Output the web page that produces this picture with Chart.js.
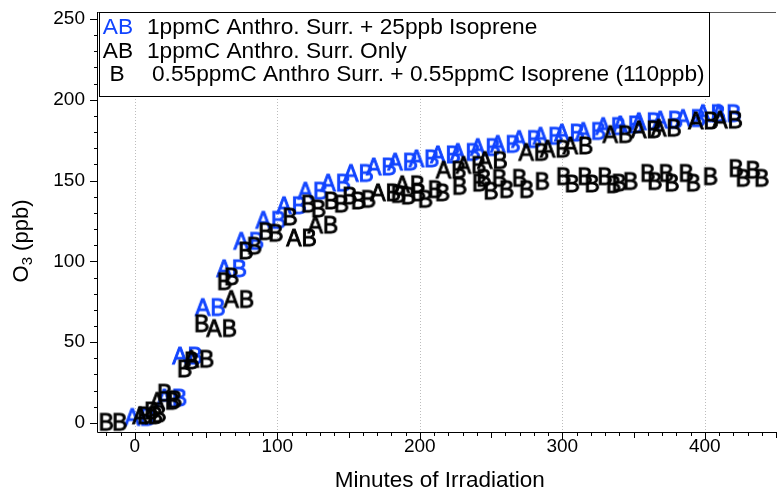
<!DOCTYPE html>
<html>
<head>
<meta charset="utf-8">
<script src="https://cdn.jsdelivr.net/npm/chart.js@4"></script>
<style>
  html, body { margin: 0; padding: 0; background: #fff; }
  #wrap { width: 781px; height: 492px; }
</style>
</head>
<body>
<div id="wrap"><canvas id="chart"></canvas></div>
<script>
// 1ppmC surrogate + 25ppb isoprene (blue AB)
const isoMin = [3.5, 26, 37, 53, 68, 80, 95.5, 110, 125, 141, 157, 173, 188, 203, 218, 232, 246, 260, 275, 290, 305, 320, 334, 346, 359, 374, 390, 404, 415];
const isoO3  = [4, 16, 42, 72, 96, 113, 126, 135, 144, 149, 155, 159, 162, 164, 166.5, 168, 171, 173, 176, 178, 180, 181, 184, 185, 187, 188, 189, 192, 192];

// 1ppmC surrogate only (black AB)
const surMin = [9, 21, 45, 61, 73, 117, 132, 176, 193, 222, 236, 251, 280, 295, 311, 339, 359, 373, 399, 416];
const surO3  = [5, 14, 40, 59, 77, 115, 123, 143, 148, 157, 160, 163, 168, 170, 172, 179, 182, 183, 187.5, 188];

// 0.55ppmC surrogate + 0.55ppmC isoprene (black B)
const mixMin = [-20, -10.5, 7, 12, 17, 21, 28, 35, 40, 47, 63, 68, 78, 84, 92, 99, 109, 122, 129, 138,
                145, 151, 157, 164, 185, 192, 199, 204, 211, 216, 228, 242, 245, 250, 256, 261, 270, 275, 286, 301,
                307, 316, 321, 330, 336, 340, 348, 360, 365, 373, 377, 387, 392, 404, 422, 427, 434, 440];
const mixO3  = [1, 1, 5, 8, 6, 19, 15, 34, 39, 62, 88, 91, 107, 110, 119, 118, 128, 136, 133, 138,
                136, 141, 138, 139, 142, 141, 143, 139, 145, 143, 147, 149, 152, 144, 152, 145, 152, 145, 150, 153,
                148.5, 153, 148.5, 153, 148, 149, 150, 155, 150, 155, 149, 155, 149, 153, 158, 152, 157, 152];

const seriesNames = ['1ppmC Anthro. Surr. + 25ppb Isoprene', '1ppmC Anthro. Surr. Only', '0.55ppmC Anthro Surr. + 0.55ppmC Isoprene (110ppb)'];
const seriesMarks = ['AB', 'AB', 'B'];

const xTicks = [0, 100, 200, 300, 400];
const yTicks = [0, 50, 100, 150, 200, 250];

const FONT = '"Liberation Sans", Arial, sans-serif';
const BLUE = '#1144ff';

function textMarker(str, color) {
  const c = document.createElement('canvas');
  const g = c.getContext('2d');
  g.font = '23px ' + FONT;
  const w = Math.ceil(g.measureText(str).width) + 4;
  c.width = w;
  c.height = 26;
  g.font = '23px ' + FONT;
  g.fillStyle = color;
  g.strokeStyle = color;
  g.lineWidth = 0.9;
  g.textAlign = 'center';
  g.textBaseline = 'alphabetic';
  g.fillText(str, w / 2, 13 + 8.5);
  g.strokeText(str, w / 2, 13 + 8.5);
  return c;
}

function pts(xs, ys) {
  return xs.map((v, i) => ({ x: v, y: ys[i] }));
}

const frame = {
  id: 'frame',
  beforeDatasetsDraw(chart) {
    const { ctx, chartArea: a, scales: { x } } = chart;
    ctx.save();
    ctx.strokeStyle = '#bdbdbd';
    ctx.lineWidth = 1;
    ctx.setLineDash([1, 2]);
    xTicks.forEach(v => {
      const px = Math.round(x.getPixelForValue(v)) + 0.5;
      ctx.beginPath();
      ctx.moveTo(px, a.top);
      ctx.lineTo(px, a.bottom);
      ctx.stroke();
    });
    ctx.restore();
  },
  afterDatasetsDraw(chart) {
    const { ctx, chartArea: a, scales: { x, y } } = chart;
    ctx.save();
    // top border
    ctx.strokeStyle = '#555';
    ctx.lineWidth = 1;
    ctx.beginPath();
    ctx.moveTo(a.left, a.top + 0.5);
    ctx.lineTo(a.right, a.top + 0.5);
    ctx.stroke();

    // axes
    ctx.strokeStyle = '#000';
    ctx.beginPath();
    ctx.moveTo(a.left - 0.5, a.top);
    ctx.lineTo(a.left - 0.5, a.bottom + 0.5);
    ctx.lineTo(a.right, a.bottom + 0.5);
    ctx.stroke();

    // x ticks
    ctx.beginPath();
    for (let v = -20; v <= 450; v += 10) {
      const px = Math.round(x.getPixelForValue(v)) + 0.5;
      const len = v % 100 === 0 ? 8 : (v % 50 === 0 ? 6 : 4);
      ctx.moveTo(px, a.bottom);
      ctx.lineTo(px, a.bottom + len);
    }
    // y ticks
    for (let v = 0; v <= 250; v += 10) {
      const py = Math.round(y.getPixelForValue(v)) + 0.5;
      const len = v % 50 === 0 ? 8 : 4;
      ctx.moveTo(a.left, py);
      ctx.lineTo(a.left - len, py);
    }
    ctx.stroke();

    // tick labels
    ctx.fillStyle = '#000';
    ctx.font = '19px ' + FONT;
    ctx.textAlign = 'center';
    ctx.textBaseline = 'middle';
    xTicks.forEach(v => ctx.fillText(String(v), x.getPixelForValue(v), 447));
    ctx.textAlign = 'right';
    yTicks.forEach(v => ctx.fillText(String(v), 85, y.getPixelForValue(v)));

    // axis titles
    ctx.font = '22.5px ' + FONT;
    ctx.textAlign = 'center';
    ctx.fillText('Minutes of Irradiation', (x.getPixelForValue(0) + x.getPixelForValue(400)) / 2 + 20, 481);

    ctx.translate(22, 241);
    ctx.rotate(-Math.PI / 2);
    ctx.textAlign = 'left';
    ctx.font = '22px ' + FONT;
    const wO = ctx.measureText('O').width;
    ctx.font = '15px ' + FONT;
    const w3 = ctx.measureText('3').width;
    ctx.font = '22px ' + FONT;
    const wRest = ctx.measureText(' (ppb)').width;
    let sx = -(wO + w3 + wRest) / 2;
    ctx.fillText('O', sx, 0);
    ctx.font = '15px ' + FONT;
    ctx.fillText('3', sx + wO, 6);
    ctx.font = '22px ' + FONT;
    ctx.fillText(' (ppb)', sx + wO + w3, 0);
    ctx.restore();

    // legend
    ctx.save();
    ctx.fillStyle = '#fff';
    ctx.fillRect(100, 13, 609, 83);
    ctx.strokeStyle = '#000';
    ctx.lineWidth = 1;
    ctx.strokeRect(99.5, 12.5, 610, 84);
    ctx.font = '22.7px ' + FONT;
    ctx.textBaseline = 'middle';
    const rows = [27, 50.5, 74];
    const colors = [BLUE, '#000', '#000'];
    seriesNames.forEach((name, i) => {
      ctx.fillStyle = colors[i];
      ctx.textAlign = 'center';
      ctx.fillText(seriesMarks[i], i === 2 ? 117 : 118, rows[i] + 1);
      ctx.fillStyle = '#000';
      ctx.textAlign = 'left';
      ctx.fillText(name, i === 2 ? 152 : 147, rows[i] + 1);
    });
    ctx.restore();
  }
};

new Chart(document.getElementById('chart'), {
  type: 'scatter',
  data: {
    datasets: [
      { label: seriesNames[0], data: pts(isoMin, isoO3), pointStyle: textMarker(seriesMarks[0], BLUE), order: 2 },
      { label: seriesNames[1], data: pts(surMin, surO3), pointStyle: textMarker(seriesMarks[1], '#000'), order: 1 },
      { label: seriesNames[2], data: pts(mixMin, mixO3), pointStyle: textMarker(seriesMarks[2], '#000'), order: 0 }
    ]
  },
  options: {
    responsive: true,
    maintainAspectRatio: false,
    animation: false,
    layout: { padding: { left: 98, right: 0, top: 12, bottom: 60 } },
    plugins: { legend: { display: false }, tooltip: { enabled: false } },
    scales: {
      x: { type: 'linear', display: false, min: -25.8, max: 450 },
      y: { type: 'linear', display: false, min: -5.6, max: 254.3 }
    }
  },
  plugins: [frame]
});
</script>
</body>
</html>
